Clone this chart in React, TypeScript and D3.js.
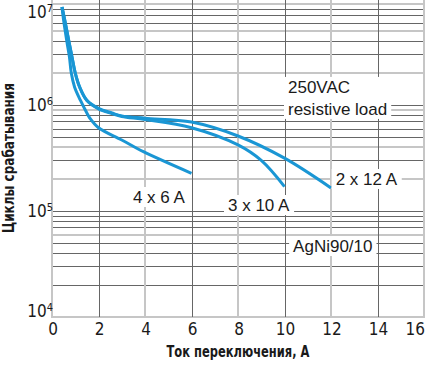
import React, { useEffect, useRef } from 'react';
import * as d3 from 'd3';

type Pt = [number, number];

// current, A -> switching cycles
const series2x12: Pt[] = [
  [0.43, 8.4e6], [0.55, 6.3e6], [0.74, 3.85e6], [0.86, 2.84e6], [1.0, 2.0e6],
  [1.19, 1.48e6], [1.5, 1.11e6], [2.0, 9.3e5], [2.58, 8.4e5], [3.0, 7.9e5],
  [4.0, 7.5e5], [6.0, 6.9e5], [8.0, 5.1e5], [10.0, 3.15e5], [12.0, 1.65e5],
];
const series3x10: Pt[] = [
  [0.43, 8.4e6], [0.55, 6.3e6], [0.74, 3.85e6], [0.86, 2.84e6], [1.0, 2.0e6],
  [1.19, 1.47e6], [1.5, 1.1e6], [2.0, 9.2e5], [2.58, 8.3e5], [3.0, 7.8e5],
  [4.0, 7.3e5], [6.0, 6.1e5], [8.0, 4.2e5], [9.0, 3.0e5], [10.0, 1.7e5],
];
const series4x6: Pt[] = [
  [0.43, 8.4e6], [0.5, 6.3e6], [0.65, 3.85e6], [0.75, 2.84e6], [0.83, 2.0e6],
  [0.97, 1.48e6], [1.22, 1.11e6], [1.5, 8.4e5], [1.63, 7.5e5], [2.0, 6.1e5],
  [3.0, 4.68e5], [3.93, 3.63e5], [6.0, 2.27e5],
];
const seriesList = [series2x12, series3x10, series4x6];

const xTicks = [0, 2, 4, 6, 8, 10, 12, 14, 16];
const yExponents = [4, 5, 6, 7];

// labels placed in data coordinates (left edge, baseline)
const noteLabels = [
  { lines: ['2 x 12 A'], x: 12.2, y: 1.76e5 },
  { lines: ['3 x 10 A'], x: 7.57, y: 1.0e5 },
  { lines: ['4 x 6 A'], x: 3.48, y: 1.19e5 },
  { lines: ['AgNi90/10'], x: 10.37, y: 4.1e4 },
  { lines: ['250VAC', 'resistive load'], x: 10.15, y: 1.3e6 },
];

const xTitle = 'Ток переключения, А';
const yTitle = 'Циклы срабатывания';

// grid lines that show up as the soft grey, wide ones in the scan
const softX = new Set([0, 4, 8, 12, 16]);
const softY = new Set([1e4, 6e4, 2e5, 4e5, 9e5, 2e6, 5e6, 9e6]);

const W = 425;
const H = 365;
const narrow = '"Liberation Sans Narrow", "DejaVu Sans Condensed", sans-serif';
const plain = '"Liberation Sans", Arial, sans-serif';

const App: React.FC = () => {
  const svgRef = useRef<SVGSVGElement>(null);

  useEffect(() => {
    if (!svgRef.current) return;
    const svg = d3.select(svgRef.current);
    svg.selectAll('*').remove();

    const x = d3.scaleLinear().domain([0, 16]).range([52, 424]);
    const y = d3.scaleLog().domain([1e4, 1e7]).range([317, -1]);
    const top = 0;
    const bottom = y(1e4);

    const grid = svg.append('g');

    // horizontal grid (every 1..9 per decade)
    const yGrid: number[] = [];
    for (let e = 4; e < 7; e++) for (let m = 1; m < 10; m++) yGrid.push(m * 10 ** e);
    yGrid.forEach((v) => {
      const soft = softY.has(Math.round(v));
      const py = soft ? Math.round(y(v)) : Math.round(y(v)) + 0.5;
      grid.append('line')
        .attr('x1', x(0)).attr('x2', W)
        .attr('y1', py).attr('y2', py)
        .attr('stroke', soft ? '#c6c6c6' : '#666')
        .attr('stroke-width', soft ? 2 : 1);
    });

    // vertical grid
    xTicks.forEach((t) => {
      const soft = softX.has(t);
      const px = soft ? Math.round(x(t)) : Math.round(x(t)) + 0.5;
      grid.append('line')
        .attr('x1', px).attr('x2', px)
        .attr('y1', top).attr('y2', bottom + (soft ? 1 : 0))
        .attr('stroke', soft ? '#c6c6c6' : '#666')
        .attr('stroke-width', soft ? 2 : 1);
    });

    // curves
    const line = d3.line<Pt>()
      .x((d) => x(d[0]))
      .y((d) => y(d[1]))
      .curve(d3.curveCatmullRom.alpha(0.5));
    seriesList.forEach((s) => {
      svg.append('path')
        .datum(s)
        .attr('d', line)
        .attr('fill', 'none')
        .attr('stroke', '#1a96d4')
        .attr('stroke-width', 3);
    });

    // annotations with white boxes behind
    noteLabels.forEach((n) => {
      const g = svg.append('g');
      const rect = g.append('rect').attr('fill', '#fff');
      const txt = g.append('text')
        .attr('font-family', plain)
        .attr('font-size', 17)
        .attr('fill', '#1a1a1a');
      n.lines.forEach((l, i) => {
        txt.append('tspan').attr('x', x(n.x)).attr('y', y(n.y) + i * 22).text(l);
      });
      const b = (txt.node() as SVGTextElement).getBBox();
      rect.attr('x', b.x - 4).attr('y', b.y - 1)
        .attr('width', b.width + 8).attr('height', b.height + 1);
    });

    // y tick labels
    yExponents.forEach((e) => {
      const c = Math.max(12, Math.min(311, y(10 ** e)));
      const t = svg.append('text')
        .attr('x', 53).attr('y', c + 6)
        .attr('text-anchor', 'end')
        .attr('font-family', narrow)
        .attr('font-size', 17)
        .attr('fill', '#1a1a1a');
      t.append('tspan').text('10');
      t.append('tspan').attr('dy', -6).attr('font-size', 11).text(String(e));
    });

    // x tick labels
    xTicks.forEach((t, i) => {
      const last = i === xTicks.length - 1;
      svg.append('text')
        .attr('x', last ? W : x(t) + 1)
        .attr('y', 335)
        .attr('text-anchor', last ? 'end' : 'middle')
        .attr('font-family', narrow)
        .attr('font-size', 17)
        .attr('fill', '#1a1a1a')
        .text(String(t));
    });

    // axis titles
    svg.append('text')
      .attr('x', (x(0) + x(16)) / 2)
      .attr('y', 357)
      .attr('text-anchor', 'middle')
      .attr('font-family', narrow)
      .attr('font-weight', 'bold')
      .attr('font-size', 15)
      .attr('textLength', 143)
      .attr('lengthAdjust', 'spacingAndGlyphs')
      .attr('fill', '#1a1a1a')
      .text(xTitle);

    svg.append('text')
      .attr('transform', `translate(14,158) rotate(-90)`)
      .attr('text-anchor', 'middle')
      .attr('font-family', narrow)
      .attr('font-weight', 'bold')
      .attr('font-size', 15)
      .attr('textLength', 150)
      .attr('lengthAdjust', 'spacingAndGlyphs')
      .attr('fill', '#1a1a1a')
      .text(yTitle);
  }, []);

  return (
    <svg
      ref={svgRef}
      width={W}
      height={H}
      style={{ position: 'absolute', left: 0, top: 0, background: '#fff' }}
    />
  );
};

export default App;
